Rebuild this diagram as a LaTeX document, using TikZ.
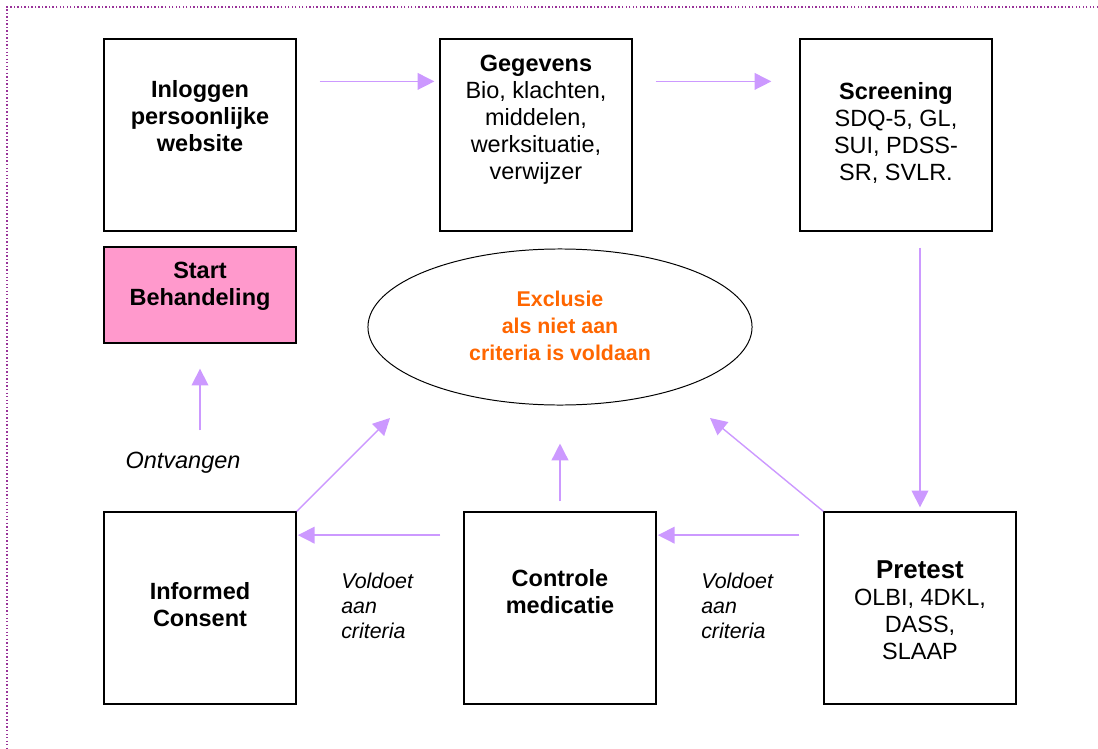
\documentclass[tikz,border=0pt]{standalone}
\usepackage{fontspec}
\setmainfont{Liberation Sans}
\usetikzlibrary{arrows.meta, shapes.geometric}
\definecolor{lila}{RGB}{204,153,255}
\definecolor{roze}{RGB}{255,153,204}
\definecolor{oranje}{RGB}{255,102,0}
\definecolor{paars}{RGB}{153,51,153}

\begin{document}
\begin{tikzpicture}[x=0.025cm, y=-0.025cm,
	box/.style={draw, line width=0.9pt, minimum width=4.8cm, minimum height=4.8cm, inner sep=0},
	txt/.style={align=center, inner sep=0, font=\fontsize{16.7}{19.2}\selectfont},
	note/.style={align=left, inner sep=0, font=\fontsize{15.2}{17.8}\selectfont\itshape},
	flow/.style={draw=lila, line width=1pt, -{Triangle[length=0.42cm, width=0.42cm]}}]
	\useasboundingbox (0,0) rectangle (1098,749);
	\draw[paars, line width=1pt, dash pattern=on 1pt off 1.5pt] (1098,7) -- (7,7) -- (7,749);

	% Top row
	\node[box] (inlog) at (200, 135) {};
	\node[box] (gegevens) at (536, 135) {};
	\node[box] (screening) at (896, 135) {};
	\node[txt, font=\fontsize{16.7}{19.2}\selectfont\bfseries] (inlogT) at (200, 116) {Inloggen\\persoonlijke\\website};
	\node[txt] (gegevensT) at (536, 120) {\textbf{Gegevens}\\Bio, klachten,\\middelen,\\werksituatie,\\verwijzer};
	\node[txt] (screeningT) at (896, 133) {\textbf{Screening}\\SDQ-5, GL,\\SUI, PDSS-\\SR, SVLR.};

	% Start and exclusion
	\node[box, fill=roze, minimum height=2.4cm] (start) at (200, 295) {};
	\node[txt, font=\fontsize{16.7}{19.2}\selectfont\bfseries] (startT) at (200, 286) {Start\\Behandeling};
	\node[draw, ellipse, line width=0.7pt, minimum width=9.6cm, minimum height=3.9cm, inner sep=0] (excl) at (560, 327) {};
	\node[txt, text=oranje, font=\fontsize{15.2}{19.2}\selectfont\bfseries] (exclT) at (560, 326) {Exclusie\\als niet aan\\criteria is voldaan};

	% Bottom row
	\node[box] (consent) at (200, 608) {};
	\node[box] (controle) at (560, 608) {};
	\node[box] (pretest) at (920, 608) {};
	\node[txt, font=\fontsize{16.7}{19.2}\selectfont\bfseries] (consentT) at (200, 605) {Informed\\Consent};
	\node[txt, font=\fontsize{16.7}{19.2}\selectfont\bfseries] (controleT) at (560, 592) {Controle\\medicatie};
	\node[txt] (pretestT) at (920, 610) {{\fontsize{18.4}{19.2}\selectfont\textbf{Pretest}}\\OLBI, 4DKL,\\DASS,\\SLAAP};

	% Labels
	\node[note, anchor=west] (voldoetL) at (341, 606) {Voldoet\\aan\\criteria};
	\node[note, anchor=west] (voldoetR) at (701, 606) {Voldoet\\aan\\criteria};
	\node[note, font=\fontsize{16.7}{19.2}\selectfont\itshape] (ontvangen) at (183, 463) {Ontvangen};

	% Connectors
	\coordinate (exclL) at (390, 418);
	\coordinate (exclR) at (710, 418);
	\draw[flow, shorten <=0.575cm, shorten >=0.125cm] (inlog.29.8) -- (gegevens.west |- inlog.29.8);
	\draw[flow, shorten <=0.575cm, shorten >=0.7cm] (gegevens.29.8) -- (screening.west |- gegevens.29.8);
	\draw[flow, shorten <=0.4cm, shorten >=0.1cm] (screening.south -| pretest.north) -- (pretest.north);
	\draw[flow] (pretest.north west) -- (exclR);
	\draw[flow, shorten <=0.6cm, shorten >=0.03cm] (pretest.143.13) -- (controle.east |- pretest.143.13);
	\draw[flow, shorten <=0.575cm, shorten >=0.03cm] (controle.143.13) -- (consent.east |- controle.143.13);
	\draw[flow, shorten <=0.25cm, shorten >=0.95cm] (controle.north) -- (excl.south);
	\draw[flow] (consent.north east) -- (exclL);
	\draw[flow, shorten <=2.025cm, shorten >=0.625cm] (consent.north) -- (start.south);
\end{tikzpicture}
\end{document}
